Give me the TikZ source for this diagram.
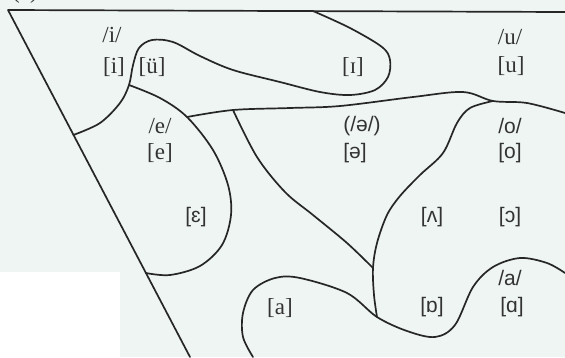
\documentclass[tikz,border=0pt]{standalone}
\usepackage{fontspec}
\setmainfont{Liberation Serif}
\newfontfamily\ipasans{Liberation Sans}
\usetikzlibrary{calc}
\definecolor{bgc}{HTML}{EEF5F3}
\definecolor{inkc}{HTML}{262626}
\definecolor{txtc}{HTML}{333333}
\tikzset{
  bound/.style={draw=inkc, line width=1.7pt, line cap=round, line join=round},
  lab/.style={text=txtc, font=\fontsize{23}{24}\selectfont, inner sep=0pt},
  labs/.style={text=txtc, font=\ipasans\fontsize{21}{24}\selectfont, inner sep=0pt}
}
\begin{document}
\begin{tikzpicture}[x=1pt,y=-1pt]
\useasboundingbox (0,0) rectangle (565,357);
\fill[bgc] (0,0) rectangle (565,357);
\fill[white] (0,272) rectangle (120,357);
\begin{scope}
\clip (0,0) rectangle (565,357);
\node[lab, anchor=south] (cap) at (25,4) {(c)};
\end{scope}
% frame
\coordinate (tl) at (8,10);
\coordinate (tr) at (565,12);
\coordinate (bl) at (190,357);
\draw[bound] (tr) -- (tl) -- (bl);
\coordinate (j1) at ($(tl)!0.36!(bl)$);
\coordinate (j3) at ($(tl)!0.758!(bl)$);
% i / ü / ɪ loop
\draw[bound] plot[smooth, tension=0.55] coordinates {(j1) (100,123) (120,103) (129,85) (133,65) (139,48) (152,40) (173,42) (200,56) (233,70) (280,82) (320,92) (350,95) (375,90) (388,77) (390,60) (382,47) (350,28) (313,11)};
\coordinate (j2) at (129,85);
% e / ɛ region
\draw[bound] plot[smooth, tension=0.55] coordinates {(j2) (160,98) (187,117) (213,150) (228,185) (231,215) (222,245) (200,266) (170,275) (j3)};
\coordinate (j4) at (187,117);
% schwa upper line
\draw[bound] plot[smooth, tension=0.55] coordinates {(j4) (233,110) (290,108) (340,106) (413,97) (463,92) (493,101) (527,103) (565,113)};
\coordinate (j5) at (233,110);
\coordinate (j6) at (493,101);
% curve 4
\draw[bound] plot[smooth, tension=0.55] coordinates {(j5) (257,157) (285,192) (313,215) (347,243) (373,268)};
% curve 5
\draw[bound] plot[smooth, tension=0.55] coordinates {(j6) (470,108) (457,123) (443,153) (420,175) (400,196) (387,215) (377,243) (373,268) (374,295) (377,317)};
% bottom curve
\draw[bound] plot[smooth, tension=0.55] coordinates {(253,357) (243,337) (243,313) (253,290) (275,278) (300,278) (347,293) (377,317) (407,331) (435,337) (455,325) (473,287) (493,267) (520,258) (547,263) (565,273)};
% labels
\node[lab] (ip) at (112,35) {/i/};
\node[lab] (ib) at (114,67) {[i]};
\node[lab] (ub) at (152,67) {[ü]};
\node[lab] (Ib) at (353,67) {[ɪ]};
\node[lab] (up) at (510,37) {/u/};
\node[lab] (ubk) at (511,66) {[u]};
\node[lab] (ep) at (160,126) {/e/};
\node[lab] (eb) at (160,153) {[e]};
\node[labs] (schp) at (362,126) {(/ə/)};
\node[labs] (schb) at (355,153) {[ə]};
\node[labs] (op) at (510,126) {/o/};
\node[labs] (ob) at (510,153) {[o]};
\node[labs] (epsb) at (196,217) {[ɛ]};
\node[labs] (vb) at (432,217) {[ʌ]};
\node[labs] (cb) at (510,217) {[ɔ]};
\node[labs] (ap) at (510,278) {/a/};
\node[labs] (alb) at (512,307) {[ɑ]};
\node[labs] (orb) at (432,307) {[ɒ]};
\node[lab] (ab) at (280,308) {[a]};
\end{tikzpicture}
\end{document}
